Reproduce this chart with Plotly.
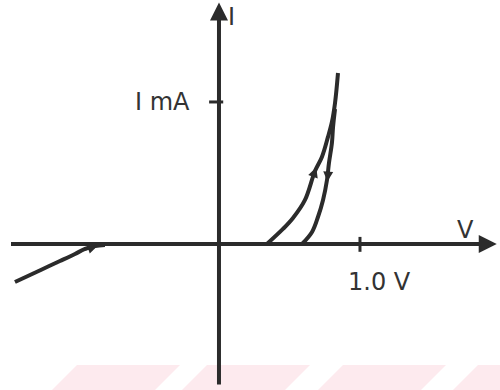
import plotly.graph_objects as go

# ---- data (V in volts, I in mA) ----
fwd_v = [0.340, 0.454, 0.525, 0.610, 0.681, 0.730, 0.773, 0.801, 0.823, 0.844]
fwd_i = [0.000, 0.106, 0.183, 0.310, 0.514, 0.613, 0.754, 0.859, 0.993, 1.204]

rev_v = [0.589, 0.660, 0.702, 0.738, 0.766, 0.780, 0.801, 0.809, 0.823]
rev_i = [0.000, 0.085, 0.190, 0.310, 0.451, 0.570, 0.711, 0.824, 0.950]

neg_v = [-1.447, -1.340, -1.234, -1.128, -1.021, -0.950, -0.879, -0.809]
neg_i = [-0.268, -0.218, -0.169, -0.120, -0.070, -0.035, -0.014, -0.007]

x_tick_val = 1.0
x_tick_label = "1.0 V"
y_tick_val = 1.0
y_tick_label = "I mA"

ink = "#2b2b2b"
lw = 4

fig = go.Figure()
for xs, ys in [(fwd_v, fwd_i), (rev_v, rev_i), (neg_v, neg_i)]:
    fig.add_trace(go.Scatter(x=xs, y=ys, mode="lines", line=dict(color=ink, width=lw, shape="spline"),
                             hoverinfo="skip", showlegend=False))

X0, X1 = -1.553, 1.993
Y0, Y1 = -1.028, 1.718

# axes
fig.add_shape(type="line", x0=-1.475, x1=1.94, y0=0, y1=0, line=dict(color=ink, width=lw))
fig.add_shape(type="line", x0=0, x1=0, y0=-0.99, y1=1.66, line=dict(color=ink, width=lw))
# ticks
fig.add_shape(type="line", x0=x_tick_val, x1=x_tick_val, y0=-0.055, y1=0.05, line=dict(color=ink, width=3))
fig.add_shape(type="line", x0=-0.07, x1=0.03, y0=y_tick_val, y1=y_tick_val, line=dict(color=ink, width=3))

ann = []
# axis arrowheads
ann.append(dict(x=1.97, y=0, ax=1.80, ay=0, xref="x", yref="y", axref="x", ayref="y",
                text="", showarrow=True, arrowhead=2, arrowsize=1.2, arrowwidth=3, arrowcolor=ink))
ann.append(dict(x=0, y=1.70, ax=0, ay=1.50, xref="x", yref="y", axref="x", ayref="y",
                text="", showarrow=True, arrowhead=2, arrowsize=1.2, arrowwidth=3, arrowcolor=ink))
# direction arrows on curves
ann.append(dict(x=0.69, y=0.54, ax=0.655, ay=0.44, xref="x", yref="y", axref="x", ayref="y",
                text="", showarrow=True, arrowhead=2, arrowsize=1.0, arrowwidth=2, arrowcolor=ink))
ann.append(dict(x=0.769, y=0.44, ax=0.778, ay=0.55, xref="x", yref="y", axref="x", ayref="y",
                text="", showarrow=True, arrowhead=2, arrowsize=1.0, arrowwidth=2, arrowcolor=ink))
ann.append(dict(x=-0.86, y=-0.012, ax=-0.98, ay=-0.05, xref="x", yref="y", axref="x", ayref="y",
                text="", showarrow=True, arrowhead=2, arrowsize=1.0, arrowwidth=2, arrowcolor=ink))

font = dict(family="DejaVu Sans", size=24, color="#333333")
ann.append(dict(x=0.09, y=1.60, text="I", showarrow=False, xref="x", yref="y", font=font))
ann.append(dict(x=-0.40, y=y_tick_val, text=y_tick_label, showarrow=False, xref="x", yref="y", font=font))
ann.append(dict(x=1.75, y=0.10, text="V", showarrow=False, xref="x", yref="y", font=font))
ann.append(dict(x=1.14, y=-0.27, text=x_tick_label, showarrow=False, xref="x", yref="y", font=font))

# faint watermark stripes at the bottom
shapes_wm = []
for left in [77, 207, 343, 478]:
    x_tl, x_tr = left / 500, (left + 103) / 500
    x_bl, x_br = (left - 25) / 500, (left + 78) / 500
    ytop, ybot = 1 - 365 / 390, 0
    path = f"M {x_tl} {ytop} L {x_tr} {ytop} L {x_br} {ybot} L {x_bl} {ybot} Z"
    shapes_wm.append(dict(type="path", path=path, xref="paper", yref="paper",
                          fillcolor="#fdeaee", line=dict(width=0), layer="below"))
for s in shapes_wm:
    fig.add_shape(**s)

fig.update_layout(
    width=500, height=390, margin=dict(l=0, r=0, t=0, b=0),
    paper_bgcolor="white", plot_bgcolor="white",
    xaxis=dict(range=[X0, X1], visible=False, fixedrange=True),
    yaxis=dict(range=[Y0, Y1], visible=False, fixedrange=True),
    annotations=ann, showlegend=False,
)
fig.write_html("out.html")
